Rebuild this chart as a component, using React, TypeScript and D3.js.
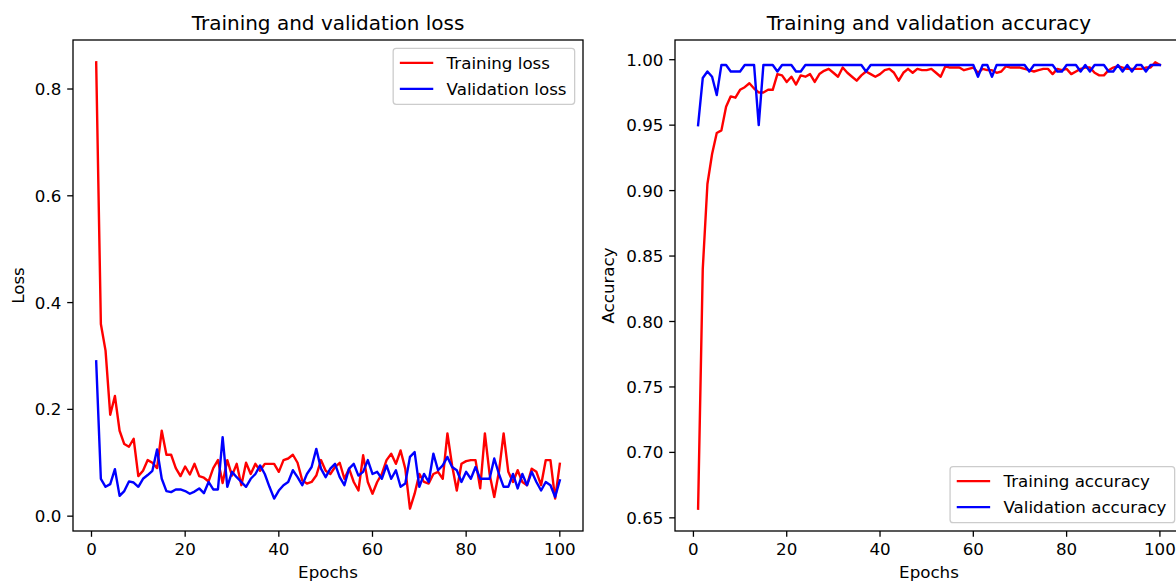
import React from 'react';
import * as d3 from 'd3';

const trainLoss = [
  0.85, 0.36, 0.31, 0.19, 0.225, 0.16, 0.135, 0.13, 0.145, 0.075,
  0.085, 0.105, 0.1, 0.09, 0.16, 0.115, 0.115, 0.09, 0.075, 0.093,
  0.078, 0.098, 0.075, 0.072, 0.065, 0.09, 0.105, 0.062, 0.105, 0.076,
  0.098, 0.058, 0.1, 0.079, 0.098, 0.085, 0.098, 0.098, 0.098, 0.083,
  0.105, 0.108, 0.115, 0.1, 0.067, 0.061, 0.064, 0.076, 0.105, 0.085,
  0.079, 0.092, 0.1, 0.07, 0.089, 0.064, 0.048, 0.114, 0.064, 0.042,
  0.064, 0.079, 0.105, 0.117, 0.098, 0.123, 0.089, 0.014, 0.042, 0.079,
  0.064, 0.061, 0.079, 0.083, 0.07, 0.155, 0.095, 0.048, 0.098, 0.103,
  0.105, 0.105, 0.052, 0.155, 0.079, 0.036, 0.083, 0.155, 0.083, 0.064,
  0.086, 0.064, 0.058, 0.089, 0.083, 0.058, 0.105, 0.105, 0.033, 0.098,
];

const valLoss = [
  0.29, 0.07, 0.055, 0.06, 0.088, 0.038, 0.047, 0.065, 0.063, 0.055,
  0.07, 0.077, 0.085, 0.125, 0.07, 0.047, 0.045, 0.05, 0.05, 0.047,
  0.042, 0.046, 0.052, 0.043, 0.064, 0.05, 0.05, 0.148, 0.055, 0.083,
  0.073, 0.064, 0.055, 0.07, 0.079, 0.095, 0.079, 0.055, 0.033, 0.048,
  0.058, 0.064, 0.086, 0.073, 0.058, 0.079, 0.092, 0.126, 0.089, 0.073,
  0.089, 0.098, 0.073, 0.058, 0.089, 0.098, 0.076, 0.083, 0.105, 0.079,
  0.083, 0.07, 0.095, 0.07, 0.086, 0.055, 0.061, 0.111, 0.12, 0.055,
  0.079, 0.064, 0.117, 0.086, 0.095, 0.111, 0.092, 0.086, 0.064, 0.083,
  0.07, 0.092, 0.07, 0.07, 0.07, 0.108, 0.079, 0.055, 0.055, 0.079,
  0.052, 0.079, 0.058, 0.083, 0.064, 0.048, 0.064, 0.058, 0.036, 0.067,
];

const trainAcc = [
  0.657, 0.84, 0.905, 0.928, 0.944, 0.946, 0.964, 0.972, 0.971, 0.977,
  0.979, 0.982, 0.978, 0.975, 0.975, 0.977, 0.977, 0.989, 0.988, 0.983,
  0.987, 0.981, 0.988, 0.987, 0.989, 0.983, 0.989, 0.9915, 0.993, 0.99,
  0.987, 0.994, 0.99, 0.987, 0.984, 0.988, 0.991, 0.989, 0.987, 0.989,
  0.992, 0.993, 0.99, 0.984, 0.99, 0.993, 0.99, 0.993, 0.992, 0.992,
  0.993, 0.99, 0.987, 0.995, 0.994, 0.994, 0.994, 0.992, 0.993, 0.994,
  0.99, 0.993, 0.992, 0.992, 0.99, 0.991, 0.995, 0.994, 0.994, 0.994,
  0.993, 0.992, 0.991, 0.992, 0.993, 0.993, 0.989, 0.993, 0.992, 0.993,
  0.989, 0.991, 0.993, 0.994, 0.994, 0.99, 0.988, 0.988, 0.992, 0.994,
  0.995, 0.994, 0.993, 0.993, 0.993, 0.993, 0.994, 0.994, 0.998, 0.996,
];

const valAcc = [
  0.95, 0.986, 0.991, 0.987, 0.973, 0.996, 0.996, 0.991, 0.991, 0.991,
  0.996, 0.996, 0.996, 0.95, 0.996, 0.996, 0.996, 0.991, 0.996, 0.996,
  0.996, 0.991, 0.991, 0.996, 0.996, 0.996, 0.996, 0.996, 0.996, 0.996,
  0.996, 0.996, 0.996, 0.996, 0.996, 0.996, 0.991, 0.996, 0.996, 0.996,
  0.996, 0.996, 0.996, 0.996, 0.996, 0.996, 0.996, 0.996, 0.996, 0.996,
  0.996, 0.996, 0.996, 0.996, 0.996, 0.996, 0.996, 0.996, 0.996, 0.996,
  0.987, 0.996, 0.996, 0.987, 0.996, 0.996, 0.996, 0.996, 0.996, 0.996,
  0.996, 0.991, 0.996, 0.996, 0.996, 0.996, 0.996, 0.991, 0.991, 0.996,
  0.996, 0.996, 0.991, 0.996, 0.991, 0.996, 0.996, 0.996, 0.991, 0.991,
  0.996, 0.991, 0.996, 0.991, 0.996, 0.996, 0.991, 0.996, 0.996, 0.996,
];

const epochs = trainLoss.map((_, i) => i + 1);
const xTicks = [0, 20, 40, 60, 80, 100];
const lossTicks = [0.0, 0.2, 0.4, 0.6, 0.8];
const accTicks = [0.65, 0.7, 0.75, 0.8, 0.85, 0.9, 0.95, 1.0];

const FONT = "'DejaVu Sans', sans-serif";
const FS = 16.7;
const TITLE_FS = 20;
const LW = 2.4;
const SPINE = 1.3;
const TICK = 5.8;
const PAD = 5.8;

type Series = { name: string; values: number[]; color: string };

function padded(vals: number[]): [number, number] {
  const [a, b] = d3.extent(vals) as [number, number];
  const m = (b - a) * 0.05;
  return [a - m, b + m];
}

function Panel(props: {
  left: number; right: number; top: number; bottom: number;
  title: string; ylabel: string; ylabelX: number;
  series: Series[]; yTicks: number[]; fmt: string;
  legend: 'upper' | 'lower';
}) {
  const { left, right, top, bottom, title, ylabel, ylabelX, series, yTicks, fmt, legend } = props;
  const xs = d3.scaleLinear().domain(padded(epochs)).range([left, right]);
  const allY = series.flatMap((s) => s.values);
  const ys = d3.scaleLinear().domain(padded(allY)).range([bottom, top]);
  const f = d3.format(fmt);
  const line = (vals: number[]) =>
    d3.line<number>().x((_, i) => xs(epochs[i])).y((v) => ys(v))(vals) || '';

  const labelWidths = series.map((s) => s.name.length);
  const maxName = series.reduce((a, s) => (s.name.length > a.length ? s.name : a), '');
  // approximate legend width via DejaVu metrics
  const textW = measure(maxName, FS);
  const lw = FS * (0.4 + 2 + 0.8 + 0.4) + textW;
  const lh = 56;
  const lx = right - 0.5 * FS - lw;
  const ly = legend === 'upper' ? top + 0.5 * FS : bottom - 0.5 * FS - lh;
  void labelWidths;

  return (
    <g>
      <defs>
        <clipPath id={`clip-${left}`}>
          <rect x={left} y={top} width={right - left} height={bottom - top} />
        </clipPath>
      </defs>
      <rect x={left} y={top} width={right - left} height={bottom - top} fill="white" />
      <g clipPath={`url(#clip-${left})`}>
        {series.map((s) => (
          <path key={s.name} d={line(s.values)} fill="none" stroke={s.color}
            strokeWidth={LW} strokeLinejoin="round" strokeLinecap="square" />
        ))}
      </g>
      <rect x={left} y={top} width={right - left} height={bottom - top}
        fill="none" stroke="black" strokeWidth={SPINE} />
      {xTicks.map((t) => (
        <g key={`x${t}`}>
          <line x1={xs(t)} x2={xs(t)} y1={bottom} y2={bottom + TICK} stroke="black" strokeWidth={SPINE} />
          <text x={xs(t)} y={bottom + TICK + PAD + 0.76 * FS} textAnchor="middle"
            fontFamily={FONT} fontSize={FS} fill="black">{t}</text>
        </g>
      ))}
      {yTicks.map((t) => (
        <g key={`y${t}`}>
          <line x1={left - TICK} x2={left} y1={ys(t)} y2={ys(t)} stroke="black" strokeWidth={SPINE} />
          <text x={left - TICK - PAD} y={ys(t)} dy="0.36em" textAnchor="end"
            fontFamily={FONT} fontSize={FS} fill="black">{f(t)}</text>
        </g>
      ))}
      <text x={(left + right) / 2} y={top - 10} textAnchor="middle"
        fontFamily={FONT} fontSize={TITLE_FS} fill="black">{title}</text>
      <text x={(left + right) / 2} y={578} textAnchor="middle"
        fontFamily={FONT} fontSize={FS} fill="black">Epochs</text>
      <text transform={`translate(${ylabelX},${(top + bottom) / 2}) rotate(-90)`} textAnchor="middle"
        dy="0.36em" fontFamily={FONT} fontSize={FS} fill="black">{ylabel}</text>
      <g>
        <rect x={lx} y={ly} width={lw} height={lh} rx={3} ry={3}
          fill="white" fillOpacity={0.8} stroke="#cccccc" strokeWidth={1.3} />
        {series.map((s, i) => {
          const cy = ly + 14.5 + i * 26;
          return (
            <g key={`lg${s.name}`}>
              <line x1={lx + 0.4 * FS} x2={lx + 2.4 * FS} y1={cy} y2={cy}
                stroke={s.color} strokeWidth={LW} />
              <text x={lx + 3.2 * FS} y={cy} dy="0.36em" fontFamily={FONT} fontSize={FS}
                fill="black">{s.name}</text>
            </g>
          );
        })}
      </g>
    </g>
  );
}

const W: Record<string, number> = {
  T: 0.611, r: 0.411, a: 0.613, i: 0.278, n: 0.634, g: 0.635, ' ': 0.318, d: 0.635,
  V: 0.684, l: 0.278, t: 0.392, o: 0.612, s: 0.521, c: 0.55, u: 0.634, y: 0.592,
};
function measure(s: string, fs: number) {
  let w = 0;
  for (const ch of s) w += W[ch] ?? 0.6;
  return w * fs;
}

export default function App() {
  return (
    <div style={{ position: 'absolute', left: 0, top: 0 }}>
      <svg width={1176} height={584} style={{ display: 'block', background: 'white' }}>
        <rect width={1176} height={584} fill="white" />
        <Panel left={73} right={583} top={40} bottom={531}
          title="Training and validation loss" ylabel="Loss" ylabelX={18}
          series={[
            { name: 'Training loss', values: trainLoss, color: 'red' },
            { name: 'Validation loss', values: valLoss, color: 'blue' },
          ]}
          yTicks={lossTicks} fmt=".1f" legend="upper" />
        <Panel left={675} right={1183} top={40} bottom={531}
          title="Training and validation accuracy" ylabel="Accuracy" ylabelX={608}
          series={[
            { name: 'Training accuracy', values: trainAcc, color: 'red' },
            { name: 'Validation accuracy', values: valAcc, color: 'blue' },
          ]}
          yTicks={accTicks} fmt=".2f" legend="lower" />
      </svg>
    </div>
  );
}
